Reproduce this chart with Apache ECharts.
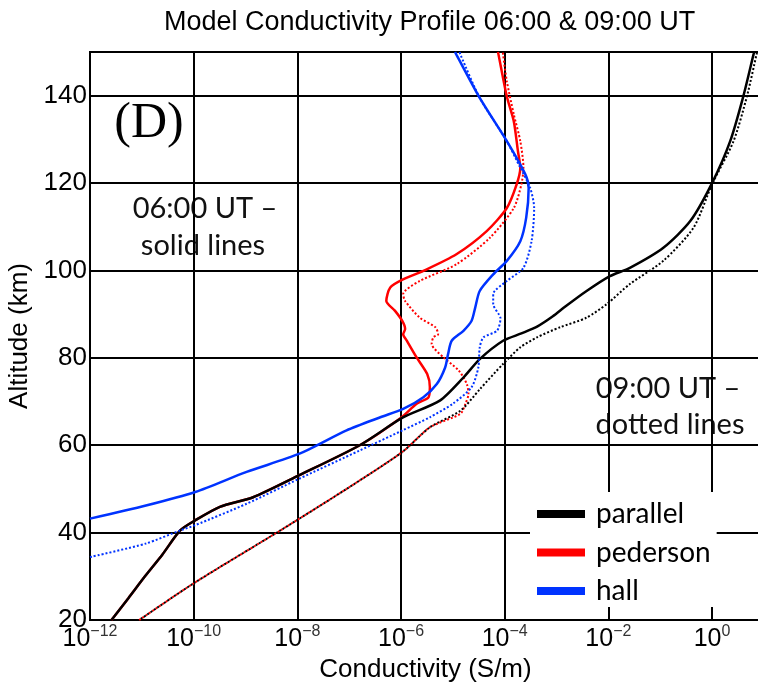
<!DOCTYPE html>
<html>
<head>
<meta charset="utf-8">
<title>Model Conductivity Profile</title>
<script src="https://cdn.jsdelivr.net/npm/echarts@6/dist/echarts.min.js"></script>
<style>
  html, body { margin: 0; padding: 0; background: #fff; }
  #chart { width: 758px; height: 682px; }
</style>
</head>
<body>
<div id="chart"></div>
<script>
// tick labels
const xTickExponents = [-12, -10, -8, -6, -4, -2, 0];
const yTickValues = [20, 40, 60, 80, 100, 120, 140];
const legendNames = ['parallel', 'pederson', 'hall'];

// 06:00 UT - solid lines (altitude km, conductivity S/m)
const parallel06Alt = [20, 25, 30, 35, 40.5, 42.8, 45.9, 48.1, 53.1, 60, 66.3, 70.2, 75.5, 79.7, 83.9, 85.6, 87.2, 89.5, 91.8, 95.3, 98.7, 100.6, 105.2, 111.3, 120, 129.6, 139.8, 149.4, 150];
const parallel06Cond = [2.6e-12, 5.5e-12, 1.15e-11, 2.5e-11, 5.5e-11, 1.07e-10, 3.2e-10, 1.4e-9, 1.07e-8, 1.6e-7, 1.07e-6, 5.6e-6, 1.6e-5, 3.3e-5, 9.3e-5, 2.1e-4, 4.3e-4, 8.5e-4, 1.5e-3, 3.8e-3, 1.07e-2, 2.6e-2, 0.115, 0.38, 1.0, 2.24, 4.0, 6.3, 6.5];

const pederson06Alt = [20, 25, 30, 35, 40.5, 42.8, 45.9, 48.1, 53.1, 60, 66.3, 69.5, 71.0, 73.3, 76.3, 80.1, 83.9, 85.4, 86.6, 88.5, 90.8, 93.0, 96.1, 98.0, 99.9, 103.7, 109.0, 114.3, 119.7, 123.5, 127.3, 134.1, 139.8, 149.4, 150];
const pederson06Cond = [2.6e-12, 5.5e-12, 1.15e-11, 2.5e-11, 5.5e-11, 1.07e-10, 3.2e-10, 1.4e-9, 1.07e-8, 1.6e-7, 1.0e-6, 2.0e-6, 3.4e-6, 3.6e-6, 3.2e-6, 2.0e-6, 1.3e-6, 1.1e-6, 1.2e-6, 1.05e-6, 7.6e-7, 5.2e-7, 6.2e-7, 1.12e-6, 2.7e-6, 1.17e-5, 4.5e-5, 1.1e-4, 1.7e-4, 2.0e-4, 1.8e-4, 1.5e-4, 1.1e-4, 7.6e-5, 7.4e-5];

const hall06Alt = [43.2, 46.2, 49.3, 53.9, 58.0, 63.4, 66.4, 68.3, 71.0, 74.0, 77.8, 80.9, 83.9, 86.2, 88.5, 91.5, 95.3, 99.1, 102.2, 106.7, 112.1, 118.9, 122.0, 129.6, 139.5, 149.4, 150];
const hall06Cond = [1.0e-12, 1.2e-11, 1.07e-10, 1.05e-9, 1.07e-8, 8.9e-8, 4.0e-7, 1.1e-6, 2.7e-6, 4.9e-6, 7.1e-6, 8.1e-6, 9.5e-6, 1.6e-5, 2.3e-5, 2.7e-5, 3.3e-5, 6.0e-5, 1.1e-4, 2.0e-4, 2.6e-4, 2.9e-4, 2.5e-4, 1.1e-4, 3.3e-5, 1.17e-5, 1.1e-5];

// 09:00 UT - dotted lines
const parallel09Alt = [20, 28.4, 40.5, 50, 58.5, 64.1, 67.9, 72.8, 78.6, 82.4, 84.7, 87.0, 89.2, 92.3, 96.9, 102.2, 109.8, 119.7, 129.6, 139.8, 149.4, 150];
const parallel09Cond = [8.9e-12, 1.0e-10, 4.7e-9, 8.9e-8, 1.07e-6, 3.6e-6, 1.4e-5, 3.3e-5, 9.3e-5, 2.0e-4, 4.2e-4, 1.17e-3, 3.8e-3, 9.3e-3, 2.6e-2, 0.115, 0.44, 1.0, 2.6, 4.7, 7.2, 7.4];

const pederson09Alt = [20, 28.4, 40.5, 50, 58.5, 64.1, 67.2, 69.5, 71.7, 74.0, 77.1, 80.1, 83.2, 84.7, 85.4, 87.0, 89.2, 93.0, 94.6, 97.6, 101.4, 107.5, 114.3, 119.7, 123.5, 129.6, 135.7, 143.3, 149.4, 150];
const pederson09Cond = [8.9e-12, 1.0e-10, 4.7e-9, 8.9e-8, 1.07e-6, 3.6e-6, 1.4e-5, 1.75e-5, 2.0e-5, 1.86e-5, 1.3e-5, 6.6e-6, 3.9e-6, 4.2e-6, 5.2e-6, 4.6e-6, 2.3e-6, 1.2e-6, 1.1e-6, 2.3e-6, 1.17e-5, 5.2e-5, 1.5e-4, 2.1e-4, 2.3e-4, 2.0e-4, 1.5e-4, 1.1e-4, 9.3e-5, 9.2e-5];

const hall09Alt = [34.4, 37.5, 40.5, 41.7, 46.6, 52.3, 58.8, 63.4, 66.4, 69.5, 73.3, 77.8, 82.4, 84.7, 86.2, 89.0, 92.3, 94.6, 97.6, 100.6, 106.7, 114.3, 118.9, 123.5, 129.6, 139.5, 149.4, 150];
const hall09Cond = [1.0e-12, 1.2e-11, 5.5e-11, 1.07e-10, 1.05e-9, 1.07e-8, 1.6e-7, 1.07e-6, 3.6e-6, 1.0e-5, 2.3e-5, 3.1e-5, 3.3e-5, 3.9e-5, 7.1e-5, 8.3e-5, 6.0e-5, 6.0e-5, 1.1e-4, 2.3e-4, 3.3e-4, 3.7e-4, 3.1e-4, 2.0e-4, 1.1e-4, 3.3e-5, 1.4e-5, 1.35e-5];

const colors = { parallel: '#000000', pederson: '#ff0000', hall: '#0033ff' };

const chart = echarts.init(document.getElementById('chart'), null, { renderer: 'canvas' });

function pairs(cond, alt) {
    return cond.map((c, i) => [c, alt[i]]);
}

function profile(name, cond, alt, dotted, dashOffset) {
    return {
        name: name,
        type: 'line',
        data: pairs(cond, alt),
        symbol: 'none',
        showSymbol: false,
        smooth: 0.25,
        color: colors[name],
        silent: true,
        lineStyle: {
            color: colors[name],
            width: dotted ? 2 : 2.5,
            type: dotted ? [2, 2] : 'solid',
            dashOffset: dashOffset || 0
        }
    };
}

function xLabel(value) {
    const e = Math.log10(value);
    const exp = xTickExponents.find(t => Math.abs(t - e) < 1e-6);
    if (exp === undefined) return '';
    const sup = exp < 0 ? '\u2212' + (-exp) : String(exp);
    return '{b|10}{s|' + sup + '}';
}

const axisFont = 'Liberation Sans';

const option = {
    backgroundColor: '#fff',
    animation: false,
    title: {
        text: 'Model Conductivity Profile 06:00 & 09:00 UT',
        left: 159,
        top: 4,
        textStyle: { fontFamily: axisFont, fontSize: 27, fontWeight: 'normal', color: '#000' }
    },
    grid: {
        left: 90,
        right: -3,
        top: 52,
        bottom: 62,
        outerBoundsMode: 'none',
        containLabel: false,
        show: true,
        borderColor: '#000',
        borderWidth: 2,
        backgroundColor: 'transparent'
    },
    legend: {
        data: legendNames,
        orient: 'vertical',
        left: 530,
        top: 492,
        backgroundColor: '#fff',
        padding: [8, 6, 2, 7],
        itemGap: 10.5,
        itemWidth: 48,
        itemHeight: 8,
        icon: 'rect',
        selectedMode: false,
        textStyle: { fontFamily: 'Lato', fontSize: 28, color: '#000', lineHeight: 26, padding: [0, 0, 0, 6] }
    },
    xAxis: {
        type: 'log',
        logBase: 10,
        min: 1e-12,
        max: 8.8,
        interval: 2,
        name: 'Conductivity (S/m)',
        nameLocation: 'middle',
        nameGap: 35,
        nameTextStyle: { fontFamily: axisFont, fontSize: 26, color: '#000', verticalAlign: 'top' },
        axisLine: { show: true, lineStyle: { color: '#000', width: 2 } },
        axisTick: { show: false },
        splitLine: { show: true, lineStyle: { color: '#000', width: 2 } },
        axisLabel: {
            margin: 4,
            formatter: xLabel,
            rich: {
                b: { fontFamily: axisFont, fontSize: 25, color: '#000', lineHeight: 28, verticalAlign: 'bottom' },
                s: { fontFamily: axisFont, fontSize: 16, color: '#333', lineHeight: 16, verticalAlign: 'top' }
            }
        }
    },
    yAxis: {
        type: 'value',
        min: 20,
        max: 150,
        interval: 20,
        name: 'Altitude (km)',
        nameLocation: 'middle',
        nameGap: 50,
        nameRotate: 90,
        nameTextStyle: { fontFamily: axisFont, fontSize: 26, color: '#000' },
        axisLine: { show: true, lineStyle: { color: '#000', width: 2 } },
        axisTick: { show: false },
        splitLine: { show: true, lineStyle: { color: '#000', width: 2 } },
        axisLabel: {
            margin: 3,
            fontFamily: axisFont,
            fontSize: 26,
            color: '#000',
            formatter: v => (yTickValues.indexOf(v) >= 0 ? String(v) : '')
        }
    },
    graphic: [
        { type: 'text', x: 149, y: 124, style: { text: '(D)', font: '50px "Liberation Serif"', fill: '#000', align: 'center', verticalAlign: 'middle' } },
        { type: 'text', x: 205, y: 209, style: { text: '06:00 UT \u2013', font: '29px Lato', fill: '#111', align: 'center', verticalAlign: 'middle' } },
        { type: 'text', x: 203, y: 246, style: { text: 'solid lines', font: '29px Lato', fill: '#111', align: 'center', verticalAlign: 'middle' } },
        { type: 'text', x: 668, y: 389, style: { text: '09:00 UT \u2013', font: '29px Lato', fill: '#111', align: 'center', verticalAlign: 'middle' } },
        { type: 'text', x: 670, y: 425, style: { text: 'dotted lines', font: '29px Lato', fill: '#111', align: 'center', verticalAlign: 'middle' } }
    ],
    series: [
        profile('pederson', pederson09Cond, pederson09Alt, true, 0),
        profile('pederson', pederson06Cond, pederson06Alt, false),
        profile('parallel', parallel09Cond, parallel09Alt, true, 2),
        profile('parallel', parallel06Cond, parallel06Alt, false),
        profile('hall', hall09Cond, hall09Alt, true, 0),
        profile('hall', hall06Cond, hall06Alt, false)
    ]
};

chart.setOption(option);
window.addEventListener('resize', () => chart.resize());
</script>
</body>
</html>
